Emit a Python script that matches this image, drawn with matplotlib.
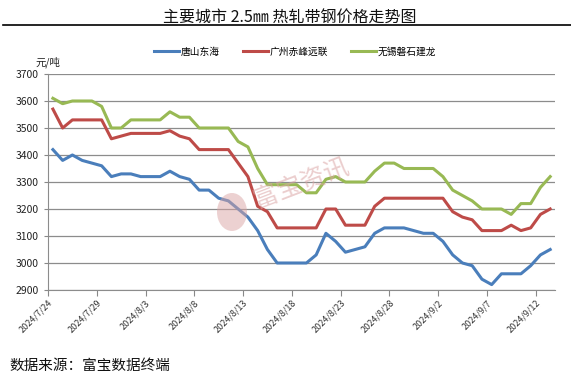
import numpy as np
import matplotlib.pyplot as plt
from matplotlib.lines import Line2D
from matplotlib.patches import Ellipse

plt.rcParams['font.family'] = ['Noto Sans CJK SC', 'DejaVu Sans']

# daily prices, 2024/7/24 .. 2024/9/13 (yuan/ton)
tangshan = [3420, 3380, 3400, 3380, 3370, 3360, 3320, 3330, 3330, 3320,
            3320, 3320, 3340, 3320, 3310, 3270, 3270, 3240, 3230, 3200,
            3170, 3120, 3050, 3000, 3000, 3000, 3000, 3030, 3110, 3080,
            3040, 3050, 3060, 3110, 3130, 3130, 3130, 3120, 3110, 3110,
            3080, 3030, 3000, 2990, 2940, 2920, 2960, 2960, 2960, 2990,
            3030, 3050]
guangzhou = [3570, 3500, 3530, 3530, 3530, 3530, 3460, 3470, 3480, 3480,
             3480, 3480, 3490, 3470, 3460, 3420, 3420, 3420, 3420, 3370,
             3320, 3210, 3190, 3130, 3130, 3130, 3130, 3130, 3200, 3200,
             3140, 3140, 3140, 3210, 3240, 3240, 3240, 3240, 3240, 3240,
             3240, 3190, 3170, 3160, 3120, 3120, 3120, 3140, 3120, 3130,
             3180, 3200]
wuxi = [3610, 3590, 3600, 3600, 3600, 3580, 3500, 3500, 3530, 3530,
        3530, 3530, 3560, 3540, 3540, 3500, 3500, 3500, 3500, 3450,
        3430, 3350, 3290, 3290, 3290, 3290, 3260, 3260, 3310, 3320,
        3300, 3300, 3300, 3340, 3370, 3370, 3350, 3350, 3350, 3350,
        3320, 3270, 3250, 3230, 3200, 3200, 3200, 3180, 3220, 3220,
        3280, 3320]
tick_labels = ['2024/7/24', '2024/7/29', '2024/8/3', '2024/8/8', '2024/8/13',
               '2024/8/18', '2024/8/23', '2024/8/28', '2024/9/2', '2024/9/7',
               '2024/9/12']
series_names = ['唐山东海', '广州赤峰远联', '无锡磐石建龙']

fig = plt.figure(figsize=(5.71, 3.84), dpi=100)
ax = fig.add_axes([0.0841, 0.2448, 0.888, 0.5625])

x = np.arange(len(tangshan))
ax.plot(x, tangshan, c='#4A7EBB', linewidth=2.2, label=series_names[0])
ax.plot(x, guangzhou, c='#BE4B48', linewidth=2.2, label=series_names[1])
ax.plot(x, wuxi, c='#98B954', linewidth=2.2, label=series_names[2])

ax.set_xlim(-0.5, len(x) - 0.5)
ax.set_ylim(2900, 3700)
ax.set_yticks(np.arange(2900, 3701, 100))
ax.set_xticks(np.arange(len(tick_labels)) * 5 - 0.5)
ax.set_xticklabels(tick_labels, rotation=45, ha='right', rotation_mode='anchor',
                   fontsize=6.5, color='#333333')
ax.tick_params(axis='y', labelsize=7.5, colors='#222222', length=3, color='#888888')
ax.tick_params(axis='x', length=4, color='#888888', pad=2)
ax.grid(axis='y', color='#8c8c8c', linewidth=0.9)
ax.set_axisbelow(True)
for side in ['top', 'right']:
    ax.spines[side].set_visible(False)
for side in ['left', 'bottom']:
    ax.spines[side].set_color('#8c8c8c')

ax.legend(loc='lower center', bbox_to_anchor=(0.487, 1.08), ncol=3, frameon=False,
          fontsize=7, handlelength=2.6, columnspacing=2.4, handletextpad=0.15,
          borderpad=0, borderaxespad=0)

# watermark
ax.text(0.499, 0.495, '富宝资讯', transform=ax.transAxes, rotation=21, fontsize=18,
        color='#dba5a5', alpha=0.55, ha='center', va='center')
fig.add_artist(Ellipse((232 / 571, 1 - 212 / 384), 30 / 571, 38 / 384,
                       transform=fig.transFigure, color='#dba5a5', alpha=0.5, lw=0))

fig.text(0.508, 0.953, '主要城市 2.5㎜ 热轧带钢价格走势图', ha='center', va='center',
         fontsize=11.5, color='#111111')
fig.add_artist(Line2D([0.005, 1.0], [1 - 25 / 384, 1 - 25 / 384], transform=fig.transFigure,
                      color='black', linewidth=1.2))
fig.text(0.062, 1 - 62 / 384, '元/吨', fontsize=7.5, va='center', color='#222222')
fig.text(0.016, 1 - 366 / 384, '数据来源：富宝数据终端', fontsize=10.5, va='center',
         color='#111111')

fig.savefig('out.png', dpi=100)
